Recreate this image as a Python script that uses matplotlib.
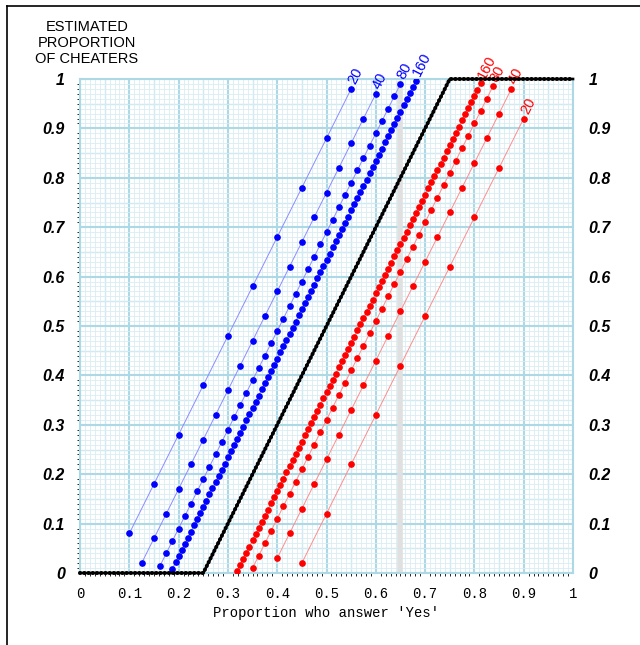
import matplotlib
matplotlib.use("Agg")
import matplotlib.pyplot as plt
from matplotlib.ticker import MultipleLocator
from matplotlib.lines import Line2D

# upper bounds (blue) for sample sizes 20, 40, 80, 160
blue20_x = [0.10, 0.15, 0.20, 0.25, 0.30, 0.35, 0.40, 0.45, 0.50, 0.55]
blue20_y = [0.08, 0.18, 0.28, 0.38, 0.48, 0.58, 0.68, 0.78, 0.88, 0.98]

blue40_x = [0.125, 0.15, 0.175, 0.2, 0.225, 0.25, 0.275, 0.3, 0.325, 0.35,
            0.375, 0.4, 0.425, 0.45, 0.475, 0.5, 0.525, 0.55, 0.575, 0.6]
blue40_y = [0.02, 0.07, 0.12, 0.17, 0.22, 0.27, 0.32, 0.37, 0.42, 0.47,
            0.52, 0.57, 0.62, 0.67, 0.72, 0.77, 0.82, 0.87, 0.92, 0.97]

blue80_x = [0.1625, 0.175, 0.1875, 0.2, 0.2125, 0.225, 0.2375, 0.25, 0.2625, 0.275,
            0.2875, 0.3, 0.3125, 0.325, 0.3375, 0.35, 0.3625, 0.375, 0.3875, 0.4,
            0.4125, 0.425, 0.4375, 0.45, 0.4625, 0.475, 0.4875, 0.5, 0.5125, 0.525,
            0.5375, 0.55, 0.5625, 0.575, 0.5875, 0.6, 0.6125, 0.625, 0.6375, 0.65]
blue80_y = [0.015, 0.04, 0.065, 0.09, 0.115, 0.14, 0.165, 0.19, 0.215, 0.24,
            0.265, 0.29, 0.315, 0.34, 0.365, 0.39, 0.415, 0.44, 0.465, 0.49,
            0.515, 0.54, 0.565, 0.59, 0.615, 0.64, 0.665, 0.69, 0.715, 0.74,
            0.765, 0.79, 0.815, 0.84, 0.865, 0.89, 0.915, 0.94, 0.965, 0.99]

blue160_x = [0.1875, 0.19375, 0.2, 0.20625, 0.2125, 0.21875, 0.225, 0.23125, 0.2375, 0.24375,
             0.25, 0.25625, 0.2625, 0.26875, 0.275, 0.28125, 0.2875, 0.29375, 0.3, 0.30625,
             0.3125, 0.31875, 0.325, 0.33125, 0.3375, 0.34375, 0.35, 0.35625, 0.3625, 0.36875,
             0.375, 0.38125, 0.3875, 0.39375, 0.4, 0.40625, 0.4125, 0.41875, 0.425, 0.43125,
             0.4375, 0.44375, 0.45, 0.45625, 0.4625, 0.46875, 0.475, 0.48125, 0.4875, 0.49375,
             0.5, 0.50625, 0.5125, 0.51875, 0.525, 0.53125, 0.5375, 0.54375, 0.55, 0.55625,
             0.5625, 0.56875, 0.575, 0.58125, 0.5875, 0.59375, 0.6, 0.60625, 0.6125, 0.61875,
             0.625, 0.63125, 0.6375, 0.64375, 0.65, 0.65625, 0.6625, 0.66875, 0.675, 0.68125]
blue160_y = [0.009, 0.0215, 0.034, 0.0465, 0.059, 0.0715, 0.084, 0.0965, 0.109, 0.1215,
             0.134, 0.1465, 0.159, 0.1715, 0.184, 0.1965, 0.209, 0.2215, 0.234, 0.2465,
             0.259, 0.2715, 0.284, 0.2965, 0.309, 0.3215, 0.334, 0.3465, 0.359, 0.3715,
             0.384, 0.3965, 0.409, 0.4215, 0.434, 0.4465, 0.459, 0.4715, 0.484, 0.4965,
             0.509, 0.5215, 0.534, 0.5465, 0.559, 0.5715, 0.584, 0.5965, 0.609, 0.6215,
             0.634, 0.6465, 0.659, 0.6715, 0.684, 0.6965, 0.709, 0.7215, 0.734, 0.7465,
             0.759, 0.7715, 0.784, 0.7965, 0.809, 0.8215, 0.834, 0.8465, 0.859, 0.8715,
             0.884, 0.8965, 0.909, 0.9215, 0.934, 0.9465, 0.959, 0.9715, 0.984, 0.9965]

# lower bounds (red)
red20_x = [0.45, 0.50, 0.55, 0.60, 0.65, 0.70, 0.75, 0.80, 0.85, 0.90]
red20_y = [0.02, 0.12, 0.22, 0.32, 0.42, 0.52, 0.62, 0.72, 0.82, 0.92]

red40_x = [0.4, 0.425, 0.45, 0.475, 0.5, 0.525, 0.55, 0.575, 0.6, 0.625,
           0.65, 0.675, 0.7, 0.725, 0.75, 0.775, 0.8, 0.825, 0.85, 0.875]
red40_y = [0.03, 0.08, 0.13, 0.18, 0.23, 0.28, 0.33, 0.38, 0.43, 0.48,
           0.53, 0.58, 0.63, 0.68, 0.73, 0.78, 0.83, 0.88, 0.93, 0.98]

red80_x = [0.35, 0.3625, 0.375, 0.3875, 0.4, 0.4125, 0.425, 0.4375, 0.45, 0.4625,
           0.475, 0.4875, 0.5, 0.5125, 0.525, 0.5375, 0.55, 0.5625, 0.575, 0.5875,
           0.6, 0.6125, 0.625, 0.6375, 0.65, 0.6625, 0.675, 0.6875, 0.7, 0.7125,
           0.725, 0.7375, 0.75, 0.7625, 0.775, 0.7875, 0.8, 0.8125, 0.825, 0.8375]
red80_y = [0.01, 0.035, 0.06, 0.085, 0.11, 0.135, 0.16, 0.185, 0.21, 0.235,
           0.26, 0.285, 0.31, 0.335, 0.36, 0.385, 0.41, 0.435, 0.46, 0.485,
           0.51, 0.535, 0.56, 0.585, 0.61, 0.635, 0.66, 0.685, 0.71, 0.735,
           0.76, 0.785, 0.81, 0.835, 0.86, 0.885, 0.91, 0.935, 0.96, 0.985]

red160_x = [0.31875, 0.325, 0.33125, 0.3375, 0.34375, 0.35, 0.35625, 0.3625, 0.36875, 0.375,
            0.38125, 0.3875, 0.39375, 0.4, 0.40625, 0.4125, 0.41875, 0.425, 0.43125, 0.4375,
            0.44375, 0.45, 0.45625, 0.4625, 0.46875, 0.475, 0.48125, 0.4875, 0.49375, 0.5,
            0.50625, 0.5125, 0.51875, 0.525, 0.53125, 0.5375, 0.54375, 0.55, 0.55625, 0.5625,
            0.56875, 0.575, 0.58125, 0.5875, 0.59375, 0.6, 0.60625, 0.6125, 0.61875, 0.625,
            0.63125, 0.6375, 0.64375, 0.65, 0.65625, 0.6625, 0.66875, 0.675, 0.68125, 0.6875,
            0.69375, 0.7, 0.70625, 0.7125, 0.71875, 0.725, 0.73125, 0.7375, 0.74375, 0.75,
            0.75625, 0.7625, 0.76875, 0.775, 0.78125, 0.7875, 0.79375, 0.8, 0.80625, 0.8125]
red160_y = [0.0035, 0.016, 0.0285, 0.041, 0.0535, 0.066, 0.0785, 0.091, 0.1035, 0.116,
            0.1285, 0.141, 0.1535, 0.166, 0.1785, 0.191, 0.2035, 0.216, 0.2285, 0.241,
            0.2535, 0.266, 0.2785, 0.291, 0.3035, 0.316, 0.3285, 0.341, 0.3535, 0.366,
            0.3785, 0.391, 0.4035, 0.416, 0.4285, 0.441, 0.4535, 0.466, 0.4785, 0.491,
            0.5035, 0.516, 0.5285, 0.541, 0.5535, 0.566, 0.5785, 0.591, 0.6035, 0.616,
            0.6285, 0.641, 0.6535, 0.666, 0.6785, 0.691, 0.7035, 0.716, 0.7285, 0.741,
            0.7535, 0.766, 0.7785, 0.791, 0.8035, 0.816, 0.8285, 0.841, 0.8535, 0.866,
            0.8785, 0.891, 0.9035, 0.916, 0.9285, 0.941, 0.9535, 0.966, 0.9785, 0.991]

# point estimate (black)
est_x = [0.0, 0.25, 0.75, 1.0]
est_y = [0.0, 0.0, 1.0, 1.0]

highlight_x = 0.65

x_ticks = [0, 0.1, 0.2, 0.3, 0.4, 0.5, 0.6, 0.7, 0.8, 0.9, 1]
x_tick_labels = ["0", "0.1", "0.2", "0.3", "0.4", "0.5", "0.6", "0.7", "0.8", "0.9", "1"]
y_ticks = [0, 0.1, 0.2, 0.3, 0.4, 0.5, 0.6, 0.7, 0.8, 0.9, 1]
y_tick_labels = ["0", "0.1", "0.2", "0.3", "0.4", "0.5", "0.6", "0.7", "0.8", "0.9", "1"]

series = [
    (blue20_x, blue20_y, "20", "blue"),
    (blue40_x, blue40_y, "40", "blue"),
    (blue80_x, blue80_y, "80", "blue"),
    (blue160_x, blue160_y, "160", "blue"),
    (red20_x, red20_y, "20", "red"),
    (red40_x, red40_y, "40", "red"),
    (red80_x, red80_y, "80", "red"),
    (red160_x, red160_y, "160", "red"),
]
line_colors = {"blue": "#8c8cff", "red": "#ff8c8c"}

GRID_MAJOR = "#add8e6"
GRID_MINOR = "#d9eef4"

fig = plt.figure(figsize=(6.4, 6.45), dpi=100)
ax = fig.add_axes([80 / 640, 72 / 645, 493 / 640, 494 / 645])
ax.set_xlim(0, 1)
ax.set_ylim(0, 1)

# graph-paper grid
ax.xaxis.set_major_locator(MultipleLocator(0.1))
ax.yaxis.set_major_locator(MultipleLocator(0.1))
ax.xaxis.set_minor_locator(MultipleLocator(0.01))
ax.yaxis.set_minor_locator(MultipleLocator(0.01))
ax.grid(which="minor", color=GRID_MINOR, lw=0.6, zorder=0)
ax.grid(which="major", color=GRID_MAJOR, lw=1.5, zorder=0)
for v in [0.05, 0.15, 0.25, 0.35, 0.45, 0.55, 0.65, 0.75, 0.85, 0.95]:
    ax.axvline(v, color=GRID_MAJOR, lw=0.9, zorder=0.5)
    ax.axhline(v, color=GRID_MAJOR, lw=0.9, zorder=0.5)
ax.set_axisbelow(True)
for sp in ax.spines.values():
    sp.set_color(GRID_MAJOR)
    sp.set_linewidth(1.5)

ax.axvline(highlight_x, ymin=0, ymax=0.99, color="#e0e0e0", lw=4, zorder=1)

for xs, ys, label, col in series:
    ax.plot(xs, ys, color=line_colors[col], lw=0.7, zorder=2)
    ax.plot(xs, ys, ls="none", marker="o", ms=3.8, color=col, mec=col, zorder=3)
    ax.annotate(label, (xs[-1], ys[-1]), xytext=(5, 1.5), textcoords="offset points",
                rotation=63, rotation_mode="anchor", ha="left", va="bottom",
                color=col, fontsize=10.5, family="Liberation Sans",
                annotation_clip=False, zorder=4)

ax.plot(est_x, est_y, color="black", lw=1.9, zorder=5, clip_on=False)
ax.plot(est_x, est_y, color="black", lw=2.9, ls=(0, (0.05, 1.0)),
        dash_capstyle="round", zorder=5, clip_on=False)

ax.set_xticks(x_ticks)
ax.set_xticklabels(x_tick_labels, family="Liberation Mono", fontsize=10)
ax.set_yticks(y_ticks)
ax.set_yticklabels(y_tick_labels, family="Liberation Sans", fontsize=11.5,
                   fontweight="bold", fontstyle="italic")
ax.tick_params(axis="x", length=0, pad=10)
ax.tick_params(axis="y", length=0, pad=11, labelright=True)
ax.set_xlabel("Proportion who answer 'Yes'", family="Liberation Mono", fontsize=10,
              labelpad=4)

fig.text(87 / 640, 1 - 43 / 645, "ESTIMATED\nPROPORTION\nOF CHEATERS",
         ha="center", va="center", fontsize=10.5, family="Liberation Sans",
         linespacing=1.2)

# frame lines at top and left of the figure
fig.add_artist(Line2D([7 / 640, 7 / 640], [0, 1 - 6 / 645], color="black", lw=1.2))
fig.add_artist(Line2D([7 / 640, 1], [1 - 6 / 645, 1 - 6 / 645], color="black", lw=1.2))

fig.savefig("out.png", dpi=100)
